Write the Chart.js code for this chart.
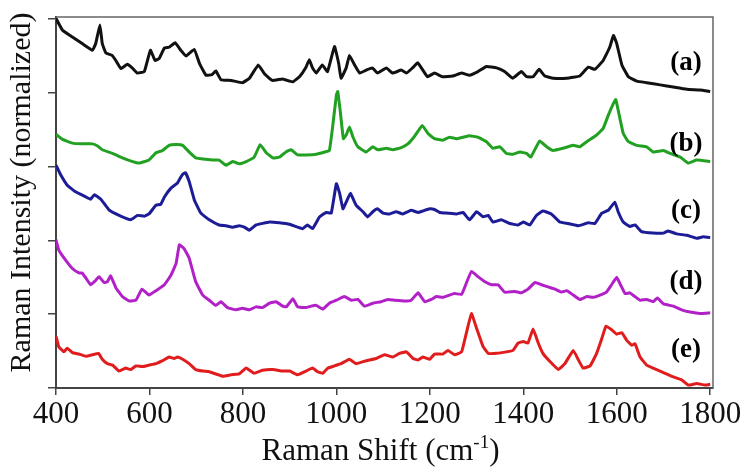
<!DOCTYPE html>
<html>
<head>
<meta charset="utf-8">
<script src="https://cdn.jsdelivr.net/npm/chart.js@4.4.1/dist/chart.umd.min.js"></script>
<style>
  html, body { margin: 0; padding: 0; background: #fff; }
  #wrap { width: 753px; height: 476px; }
</style>
</head>
<body>
<div id="wrap"><canvas id="raman" width="753" height="476"></canvas></div>
<script>
// spectra: [Raman shift (cm-1), stacked normalized intensity]
const specA = [[400,5.01],[414,4.85],[435,4.76],[456,4.67],[478,4.58],[485,4.67],[494,4.92],[499,4.67],[507,4.54],[520,4.51],[528,4.44],[539,4.33],[553,4.39],[563,4.34],[574,4.27],[589,4.29],[602,4.58],[612,4.44],[621,4.47],[632,4.61],[642,4.62],[655,4.68],[667,4.58],[678,4.50],[696,4.59],[707,4.40],[721,4.24],[734,4.25],[742,4.30],[753,4.18],[775,4.17],[799,4.14],[814,4.20],[833,4.38],[846,4.26],[863,4.17],[885,4.19],[900,4.16],[907,4.15],[921,4.22],[935,4.35],[942,4.45],[949,4.34],[957,4.27],[970,4.38],[981,4.29],[996,4.63],[1005,4.40],[1010,4.20],[1021,4.34],[1028,4.51],[1039,4.38],[1050,4.27],[1064,4.31],[1077,4.34],[1088,4.27],[1107,4.34],[1120,4.27],[1139,4.31],[1150,4.27],[1163,4.34],[1174,4.41],[1185,4.31],[1195,4.22],[1210,4.27],[1227,4.22],[1249,4.23],[1268,4.27],[1285,4.24],[1303,4.29],[1321,4.36],[1343,4.34],[1360,4.29],[1377,4.20],[1396,4.29],[1407,4.22],[1421,4.22],[1434,4.32],[1446,4.23],[1464,4.20],[1493,4.20],[1521,4.23],[1539,4.35],[1553,4.32],[1571,4.44],[1585,4.62],[1593,4.78],[1600,4.67],[1611,4.38],[1625,4.22],[1643,4.16],[1664,4.14],[1693,4.11],[1721,4.08],[1750,4.05],[1778,4.04],[1800,4.02]];

const specB = [[400,3.44],[414,3.37],[435,3.32],[456,3.31],[478,3.31],[489,3.28],[499,3.23],[521,3.18],[542,3.12],[564,3.07],[578,3.05],[599,3.09],[614,3.19],[628,3.22],[642,3.29],[657,3.30],[671,3.29],[685,3.20],[699,3.12],[721,3.10],[735,3.09],[749,3.09],[764,3.02],[778,3.07],[792,3.04],[807,3.07],[824,3.13],[837,3.30],[850,3.19],[864,3.12],[878,3.13],[892,3.20],[903,3.23],[917,3.16],[935,3.16],[957,3.17],[975,3.20],[985,3.22],[992,3.54],[1000,3.97],[1003,4.02],[1008,3.77],[1015,3.38],[1021,3.43],[1028,3.54],[1035,3.41],[1046,3.27],[1064,3.20],[1078,3.27],[1089,3.23],[1107,3.25],[1121,3.23],[1139,3.26],[1153,3.31],[1167,3.41],[1184,3.56],[1196,3.45],[1210,3.38],[1228,3.36],[1242,3.40],[1257,3.38],[1271,3.40],[1285,3.42],[1303,3.40],[1321,3.34],[1335,3.25],[1350,3.27],[1364,3.18],[1378,3.17],[1393,3.20],[1407,3.18],[1416,3.13],[1435,3.35],[1450,3.27],[1464,3.22],[1485,3.25],[1507,3.29],[1521,3.27],[1536,3.34],[1557,3.43],[1571,3.52],[1582,3.70],[1593,3.86],[1598,3.91],[1603,3.77],[1614,3.45],[1625,3.34],[1643,3.29],[1664,3.27],[1678,3.20],[1700,3.22],[1714,3.18],[1736,3.13],[1753,3.05],[1771,3.09],[1800,3.07]];

const specC = [[400,3.02],[410,2.89],[424,2.75],[442,2.66],[464,2.59],[474,2.56],[482,2.62],[496,2.56],[514,2.41],[535,2.34],[560,2.28],[574,2.34],[589,2.33],[599,2.36],[614,2.48],[624,2.49],[632,2.59],[646,2.71],[660,2.78],[670,2.89],[677,2.92],[685,2.80],[696,2.55],[710,2.37],[728,2.28],[749,2.21],[764,2.20],[778,2.18],[792,2.20],[803,2.18],[814,2.14],[828,2.21],[857,2.25],[878,2.24],[900,2.22],[928,2.16],[938,2.21],[949,2.16],[964,2.32],[978,2.38],[989,2.37],[1000,2.77],[1007,2.64],[1014,2.43],[1021,2.52],[1030,2.64],[1042,2.48],[1057,2.39],[1067,2.32],[1078,2.39],[1088,2.43],[1100,2.37],[1114,2.36],[1128,2.39],[1142,2.36],[1160,2.41],[1175,2.38],[1185,2.40],[1200,2.43],[1210,2.42],[1221,2.38],[1239,2.37],[1257,2.36],[1271,2.38],[1285,2.28],[1300,2.39],[1314,2.32],[1325,2.34],[1335,2.25],[1353,2.28],[1371,2.23],[1389,2.21],[1400,2.25],[1414,2.21],[1428,2.34],[1442,2.40],[1460,2.36],[1478,2.25],[1496,2.23],[1518,2.20],[1539,2.24],[1553,2.23],[1568,2.37],[1582,2.41],[1596,2.52],[1603,2.39],[1614,2.25],[1628,2.19],[1639,2.21],[1653,2.12],[1678,2.10],[1700,2.10],[1710,2.13],[1728,2.09],[1750,2.07],[1771,2.03],[1785,2.05],[1800,2.04]];

const specD = [[400,2.01],[406,1.87],[421,1.73],[435,1.62],[449,1.56],[456,1.56],[464,1.49],[474,1.40],[485,1.46],[492,1.51],[503,1.43],[510,1.44],[517,1.52],[528,1.36],[542,1.24],[557,1.18],[571,1.19],[584,1.34],[599,1.26],[614,1.32],[632,1.40],[646,1.53],[657,1.69],[664,1.94],[674,1.89],[685,1.76],[699,1.44],[714,1.26],[728,1.19],[742,1.12],[753,1.17],[767,1.09],[785,1.06],[799,1.08],[814,1.06],[828,1.10],[842,1.09],[857,1.15],[871,1.17],[885,1.11],[893,1.10],[907,1.21],[917,1.10],[935,1.09],[946,1.11],[957,1.12],[971,1.07],[985,1.15],[1000,1.19],[1017,1.24],[1032,1.19],[1046,1.20],[1060,1.11],[1078,1.15],[1096,1.17],[1110,1.20],[1125,1.19],[1146,1.18],[1160,1.19],[1175,1.29],[1189,1.17],[1203,1.20],[1214,1.24],[1228,1.23],[1242,1.26],[1253,1.28],[1268,1.27],[1278,1.42],[1289,1.58],[1303,1.51],[1318,1.44],[1332,1.40],[1346,1.40],[1360,1.30],[1382,1.31],[1396,1.29],[1410,1.34],[1425,1.43],[1439,1.40],[1453,1.37],[1468,1.34],[1482,1.30],[1493,1.32],[1507,1.26],[1521,1.20],[1536,1.24],[1550,1.23],[1564,1.26],[1578,1.30],[1589,1.40],[1600,1.50],[1608,1.40],[1618,1.28],[1628,1.29],[1639,1.24],[1650,1.19],[1664,1.20],[1678,1.17],[1687,1.22],[1700,1.14],[1721,1.11],[1739,1.06],[1757,1.03],[1778,1.01],[1800,1.02]];

const specE = [[400,0.70],[406,0.56],[417,0.49],[424,0.54],[435,0.48],[449,0.46],[464,0.43],[478,0.45],[491,0.47],[499,0.39],[510,0.33],[521,0.31],[535,0.23],[549,0.27],[560,0.25],[571,0.30],[585,0.29],[599,0.31],[614,0.33],[628,0.37],[642,0.42],[653,0.40],[660,0.42],[671,0.39],[685,0.33],[699,0.25],[714,0.23],[728,0.22],[742,0.19],[757,0.16],[775,0.18],[792,0.19],[807,0.27],[824,0.20],[842,0.24],[864,0.25],[885,0.23],[900,0.23],[917,0.18],[935,0.23],[949,0.27],[960,0.22],[971,0.20],[982,0.27],[996,0.30],[1010,0.33],[1028,0.39],[1042,0.33],[1064,0.37],[1085,0.40],[1103,0.45],[1121,0.42],[1135,0.47],[1150,0.49],[1164,0.40],[1175,0.38],[1185,0.42],[1200,0.39],[1210,0.46],[1228,0.46],[1239,0.51],[1253,0.45],[1268,0.49],[1278,0.74],[1289,1.01],[1300,0.81],[1314,0.56],[1325,0.47],[1343,0.47],[1364,0.49],[1378,0.51],[1389,0.61],[1400,0.63],[1410,0.61],[1421,0.80],[1432,0.61],[1442,0.47],[1457,0.36],[1475,0.25],[1489,0.33],[1507,0.51],[1518,0.38],[1528,0.27],[1543,0.30],[1557,0.47],[1568,0.67],[1577,0.84],[1589,0.79],[1600,0.73],[1611,0.75],[1621,0.65],[1632,0.58],[1639,0.60],[1650,0.42],[1664,0.31],[1678,0.27],[1700,0.21],[1721,0.15],[1739,0.11],[1753,0.04],[1771,0.06],[1789,0.04],[1800,0.05]];

const spectra = [specA, specB, specC, specD, specE];
const curveLabels = ["(a)", "(b)", "(c)", "(d)", "(e)"];
const curveColors = ["#111111", "#22a022", "#1c1c96", "#b220c8", "#e01c1c"];
const labelYs = [4.41, 3.31, 2.40, 1.44, 0.51]; // where the (a)..(e) tags sit, in data units
const xTicks = [400, 600, 800, 1000, 1200, 1400, 1600, 1800];
const yTicks = [0, 1, 2, 3, 4, 5];

const serif = "'Liberation Serif', 'Times New Roman', serif";

// titles, frame and curve tags
const decorations = {
  id: "decorations",
  afterDraw(chart) {
    const ctx = chart.ctx;
    const area = chart.chartArea;
    const ys = chart.scales.y;
    ctx.save();

    // thin top / right frame
    ctx.strokeStyle = "#666";
    ctx.lineWidth = 1.5;
    ctx.beginPath();
    ctx.moveTo(area.left, area.top);
    ctx.lineTo(area.right, area.top);
    ctx.lineTo(area.right, area.bottom);
    ctx.stroke();

    // curve tags
    ctx.fillStyle = "#000";
    ctx.font = "bold 27px " + serif;
    ctx.textAlign = "center";
    ctx.textBaseline = "middle";
    curveLabels.forEach((t, i) => {
      ctx.fillText(t, 686, ys.getPixelForValue(labelYs[i]));
    });

    // x title with superscript
    ctx.fillStyle = "#111";
    ctx.textBaseline = "alphabetic";
    ctx.textAlign = "left";
    const main = "Raman Shift (cm";
    ctx.font = "31px " + serif;
    const w1 = ctx.measureText(main).width;
    ctx.font = "19px " + serif;
    const w2 = ctx.measureText("-1").width;
    ctx.font = "31px " + serif;
    const w3 = ctx.measureText(")").width;
    const total = w1 + w2 + w3;
    const x0 = (area.left + area.right) / 2 - total / 2 - 4;
    const base = 460;
    ctx.fillText(main, x0, base);
    ctx.font = "19px " + serif;
    ctx.fillText("-1", x0 + w1, base - 12);
    ctx.font = "31px " + serif;
    ctx.fillText(")", x0 + w1 + w2, base);

    // y title
    ctx.translate(22, (area.top + area.bottom) / 2 - 10);
    ctx.rotate(-Math.PI / 2);
    ctx.textAlign = "center";
    ctx.textBaseline = "middle";
    ctx.font = "30px " + serif;
    ctx.fillText("Raman Intensity (normalized)", 0, 0);
    ctx.restore();
  }
};

const ctx = document.getElementById("raman").getContext("2d");
new Chart(ctx, {
  type: "line",
  data: {
    datasets: spectra.map((s, i) => ({
      label: curveLabels[i],
      data: s.map(p => ({ x: p[0], y: p[1] })),
      borderColor: curveColors[i],
      borderWidth: 3,
      pointRadius: 0,
      tension: 0.1,
      borderJoinStyle: "round",
      fill: false
    }))
  },
  options: {
    responsive: false,
    animation: false,
    layout: { padding: { top: 17, right: 40, left: 0, bottom: 0 } },
    plugins: { legend: { display: false }, tooltip: { enabled: false } },
    scales: {
      x: {
        type: "linear",
        min: 400,
        max: 1806,
        afterBuildTicks: s => { s.ticks = xTicks.map(v => ({ value: v })) },
        afterFit: s => { s.height = 88 },
        ticks: {
          callback: v => String(v),
          font: { family: serif, size: 31 },
          color: "#111",
          padding: 1,
          maxRotation: 0,
          autoSkip: false
        },
        grid: { drawOnChartArea: false, drawTicks: true, tickLength: 7, color: "#444", lineWidth: 1.5 },
        border: { display: true, color: "#444", width: 2 }
      },
      y: {
        min: 0,
        max: 5.03,
        afterBuildTicks: s => { s.ticks = yTicks.map(v => ({ value: v })) },
        afterFit: s => { s.width = 56 },
        ticks: { callback: () => "" },
        grid: { drawOnChartArea: false, drawTicks: true, tickLength: 8, color: "#444", lineWidth: 1.5 },
        border: { display: true, color: "#444", width: 2 }
      }
    }
  },
  plugins: [decorations]
});
</script>
</body>
</html>
